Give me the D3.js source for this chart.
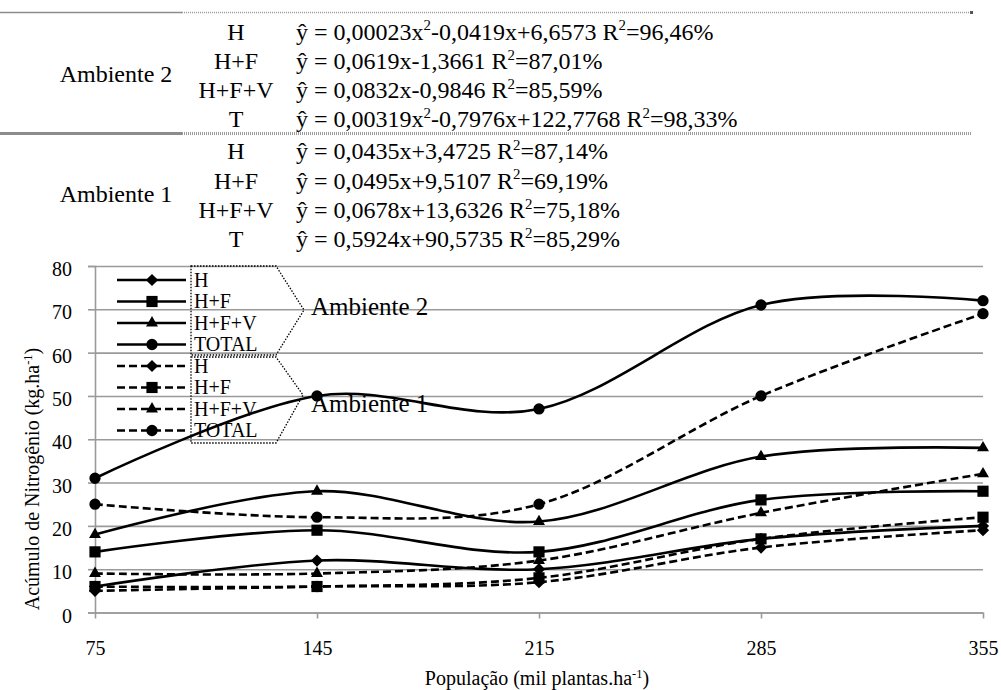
<!DOCTYPE html>
<html>
<head>
<meta charset="utf-8">
<script src="https://cdn.jsdelivr.net/npm/d3@7/dist/d3.min.js"></script>
<style>
  html, body { margin: 0; padding: 0; background: #fff; }
  svg { display: block; }
  text { font-family: "Liberation Serif", "Times New Roman", serif; fill: #000; }
</style>
</head>
<body>
<div id="chart"></div>
<script>
// ---------- DATA ----------
const categories = ["75", "145", "215", "285", "355"];
const yTicks = [0, 10, 20, 30, 40, 50, 60, 70, 80];

// Ambiente 2 (solid lines)
const amb2H     = [6, 12, 10, 17, 20];
const amb2HF    = [14, 19, 14, 26, 28];
const amb2HFV   = [18, 28, 21, 36, 38];
const amb2Total = [31, 50, 47, 71, 72];

// Ambiente 1 (dashed lines)
const amb1H     = [5, 6, 7, 15, 19];
const amb1HF    = [6, 6, 8, 17, 22];
const amb1HFV   = [9, 9, 12, 23, 32];
const amb1Total = [25, 22, 25, 50, 69];

const seriesNames = ["H", "H+F", "H+F+V", "TOTAL"];
const markerTypes = ["diamond", "square", "triangle", "circle"];

const tableGroups = ["Ambiente 2", "Ambiente 1"];
const tableRowLabels = ["H", "H+F", "H+F+V", "T"];
// equations: [text, superscript, text, superscript, text ...]
const amb2Equations = [
  ["ŷ = 0,00023x", "2", "-0,0419x+6,6573 R", "2", "=96,46%"],
  ["ŷ = 0,0619x-1,3661 R", "2", "=87,01%"],
  ["ŷ = 0,0832x-0,9846 R", "2", "=85,59%"],
  ["ŷ = 0,00319x", "2", "-0,7976x+122,7768 R", "2", "=98,33%"]
];
const amb1Equations = [
  ["ŷ = 0,0435x+3,4725 R", "2", "=87,14%"],
  ["ŷ = 0,0495x+9,5107 R", "2", "=69,19%"],
  ["ŷ = 0,0678x+13,6326 R", "2", "=75,18%"],
  ["ŷ = 0,5924x+90,5735 R", "2", "=85,29%"]
];

const xTitle = "População (mil plantas.ha";
const yTitle = "Acúmulo de Nitrogênio (kg.ha";

// ---------- SETUP ----------
const W = 1001, H = 690;
const svg = d3.select("#chart").append("svg").attr("width", W).attr("height", H);
const FONT = '"Liberation Serif", "Times New Roman", serif';

const plot = { left: 95, right: 983, top: 266, bottom: 612.5 };
const x = d3.scalePoint().domain(categories).range([plot.left, plot.right]);
const y = d3.scaleLinear().domain([0, 80]).range([plot.bottom, plot.top]);

const GRID = "#9a9a9a";

// ---------- TABLE (equations) ----------
function richText(g, xPos, yPos, parts, size) {
  const t = g.append("text").attr("x", xPos).attr("y", yPos)
    .attr("font-size", size).attr("font-family", FONT);
  parts.forEach((p, i) => {
    if (i % 2 === 1) {
      t.append("tspan").attr("font-size", size * 0.62).attr("dy", -size * 0.38).text(p);
    } else {
      t.append("tspan").attr("dy", i === 0 ? 0 : size * 0.38).text(p);
    }
  });
  return t;
}

const table = svg.append("g");
const TFS = 24;
// separator lines
function sepLine(yy, w) {
  table.append("line").attr("x1", 0).attr("x2", 182).attr("y1", yy).attr("y2", yy)
    .attr("stroke", "#8c8c8c").attr("stroke-width", w);
  table.append("line").attr("x1", 182).attr("x2", 972).attr("y1", yy).attr("y2", yy)
    .attr("stroke", "#9c9c9c").attr("stroke-width", w).attr("stroke-dasharray", "1,1");
}
sepLine(12.5, 1.5);
sepLine(133.5, 3);
table.append("rect").attr("x", 970).attr("y", 11).attr("width", 3).attr("height", 3).attr("fill", "#555");

const groupDefs = [
  { name: tableGroups[0], eq: amb2Equations, base: 39.5, step: 29.3, labelY: 82 },
  { name: tableGroups[1], eq: amb1Equations, base: 159.3, step: 29.3, labelY: 201.5 }
];
groupDefs.forEach(gd => {
  table.append("text").attr("x", 116).attr("y", gd.labelY).attr("text-anchor", "middle")
    .attr("font-size", TFS).text(gd.name);
  tableRowLabels.forEach((lab, i) => {
    const yy = gd.base + i * gd.step;
    table.append("text").attr("x", 236).attr("y", yy).attr("text-anchor", "middle")
      .attr("font-size", TFS).text(lab);
    richText(table, 296, yy, gd.eq[i], TFS);
  });
});

// ---------- GRID & AXES ----------
const gridG = svg.append("g").attr("transform", `translate(${plot.left},0)`)
  .call(d3.axisLeft(y).tickValues(yTicks).tickSize(-(plot.right - plot.left)).tickFormat(""));
gridG.select(".domain").remove();
gridG.selectAll(".tick line").attr("stroke", GRID).attr("stroke-width", 1.6);

const yAxisG = svg.append("g").attr("transform", `translate(${plot.left},0)`)
  .call(d3.axisLeft(y).tickValues(yTicks).tickSize(7).tickPadding(16));
yAxisG.select(".domain").attr("stroke", GRID).attr("stroke-width", 1.6);
yAxisG.selectAll(".tick line").attr("stroke", GRID).attr("stroke-width", 1.6);
yAxisG.selectAll(".tick text").attr("font-size", 20).attr("font-family", FONT)
  .attr("fill", "#000").attr("dy", "0.48em");

const xAxisG = svg.append("g").attr("transform", `translate(0,${plot.bottom})`)
  .call(d3.axisBottom(x).tickSize(6).tickPadding(22).tickSizeOuter(0));
xAxisG.select(".domain").attr("stroke", GRID).attr("stroke-width", 1.6);
xAxisG.selectAll(".tick line").attr("stroke", GRID).attr("stroke-width", 1.6);
xAxisG.selectAll(".tick text").attr("font-size", 20).attr("font-family", FONT).attr("fill", "#000");

// axis titles
const xt = svg.append("text").attr("x", 537).attr("y", 685).attr("text-anchor", "middle")
  .attr("font-size", 20);
xt.append("tspan").text(xTitle);
xt.append("tspan").attr("font-size", 12.5).attr("dy", -7.5).text("-1");
xt.append("tspan").attr("dy", 7.5).text(")");

const yt = svg.append("text").attr("transform", "translate(39,479) rotate(-90)")
  .attr("text-anchor", "middle").attr("font-size", 20);
yt.append("tspan").text(yTitle);
yt.append("tspan").attr("font-size", 12.5).attr("dy", -7.5).text("-1");
yt.append("tspan").attr("dy", 7.5).text(")");

// ---------- SERIES ----------
const symbolFor = {
  diamond: d3.symbol().type(d3.symbolDiamond2).size(95),
  square: d3.symbol().type(d3.symbolSquare).size(125),
  triangle: d3.symbol().type(d3.symbolTriangle).size(62),
  circle: d3.symbol().type(d3.symbolCircle).size(100)
};

const line = d3.line()
  .x((d, i) => x(categories[i]))
  .y(d => y(d))
  .curve(d3.curveCardinal.tension(0));

const series = [
  { vals: amb1H, m: 0, dash: "8,4" },
  { vals: amb1HF, m: 1, dash: "8,4" },
  { vals: amb1HFV, m: 2, dash: "8,4" },
  { vals: amb1Total, m: 3, dash: "8,4" },
  { vals: amb2H, m: 0, dash: null },
  { vals: amb2HF, m: 1, dash: null },
  { vals: amb2HFV, m: 2, dash: null },
  { vals: amb2Total, m: 3, dash: null }
];

const seriesG = svg.append("g");
series.forEach(s => {
  seriesG.append("path").datum(s.vals).attr("d", line)
    .attr("fill", "none").attr("stroke", "#000").attr("stroke-width", 2.6)
    .attr("stroke-dasharray", s.dash);
  seriesG.selectAll(null).data(s.vals).enter().append("path")
    .attr("d", symbolFor[markerTypes[s.m]])
    .attr("transform", (d, i) => `translate(${x(categories[i])},${y(d)})`)
    .attr("fill", "#000");
});

// ---------- LEGEND ----------
const leg = svg.append("g");
const legRows = [
  ...seriesNames.map((n, i) => ({ name: n, m: i, dash: null })),
  ...seriesNames.map((n, i) => ({ name: n, m: i, dash: "8,4" }))
];
legRows.forEach((r, i) => {
  const cy = 280 + i * 21.5;
  leg.append("line").attr("x1", 117).attr("x2", 186).attr("y1", cy).attr("y2", cy)
    .attr("stroke", "#000").attr("stroke-width", 2.6).attr("stroke-dasharray", r.dash);
  leg.append("path").attr("d", symbolFor[markerTypes[r.m]])
    .attr("transform", `translate(152,${cy})`).attr("fill", "#000");
  leg.append("text").attr("x", 194).attr("y", cy + 6.5).attr("font-size", 20).text(r.name);
});

// dotted brace shapes
const braceStyle = g => g.attr("fill", "none").attr("stroke", "#000").attr("stroke-width", 1.3)
  .attr("stroke-dasharray", "1.5,1.5");
leg.append("path").attr("d", "M191,266 L276,266 L304,310 L276,355 L191,355 Z").call(braceStyle);
leg.append("path").attr("d", "M191,357 L276,357 L303,395 L276,443 L191,443 Z").call(braceStyle);

leg.append("text").attr("x", 311).attr("y", 314.5).attr("font-size", 25).text("Ambiente 2");
leg.append("text").attr("x", 311).attr("y", 411.5).attr("font-size", 25).text("Ambiente 1");
</script>
</body>
</html>
